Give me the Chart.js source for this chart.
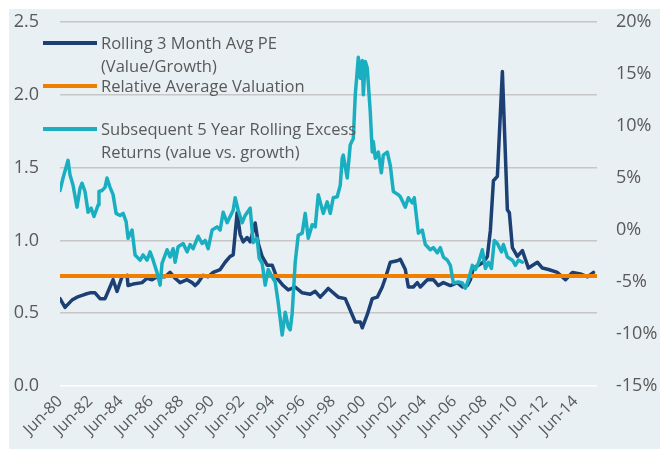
<!DOCTYPE html>
<html>
<head>
  <meta charset="UTF-8">
  <title>Value vs Growth PE</title>
  <script src="https://cdn.jsdelivr.net/npm/chart.js@4.4.1/dist/chart.umd.min.js"></script>
  <style>
    body {
      margin: 0;
      background: #fff;
      font-family: "Open Sans", sans-serif;
    }
    #wrap {
      position: absolute;
      left: 9px;
      top: 9px;
      width: 651px;
      height: 440px;
      background: #e8f0f4;
    }
    .key {
      position: absolute;
      left: 43px;
      width: 54px;
      height: 4px;
    }
    .lbl {
      position: absolute;
      left: 101px;
      height: 22px;
      line-height: 22px;
      font-size: 16.5px;
      color: #595959;
      white-space: nowrap;
    }
  </style>
</head>
<body>
  <div id="wrap"><canvas id="chart" width="651" height="440"></canvas></div>

  <div class="key" style="top:41px; background:#1c3f74;"></div>
  <div class="lbl" style="top:32px;">Rolling 3 Month Avg PE</div>
  <div class="lbl" style="top:55px;">(Value/Growth)</div>
  <div class="key" style="top:84px; background:#f07f00;"></div>
  <div class="lbl" style="top:75px;">Relative Average Valuation</div>
  <div class="key" style="top:127px; background:#1aafc0;"></div>
  <div class="lbl" style="top:118px;">Subsequent 5 Year Rolling Excess</div>
  <div class="lbl" style="top:141px;">Returns (value vs. growth)</div>

<script>
// x values are decimal years (Jun = year + 0.42)
const tickYears = [1980.42, 1982.42, 1984.42, 1986.42, 1988.42, 1990.42, 1992.42, 1994.42, 1996.42,
  1998.42, 2000.42, 2002.42, 2004.42, 2006.42, 2008.42, 2010.42, 2012.42, 2014.42];
const tickLabels = ['Jun-80', 'Jun-82', 'Jun-84', 'Jun-86', 'Jun-88', 'Jun-90', 'Jun-92', 'Jun-94', 'Jun-96',
  'Jun-98', 'Jun-00', 'Jun-02', 'Jun-04', 'Jun-06', 'Jun-08', 'Jun-10', 'Jun-12', 'Jun-14'];

const peDates = [
  1980.42, 1980.75, 1981.21, 1981.54, 1982.07, 1982.40, 1982.73, 1983.06, 1983.39, 1983.92,
  1984.18, 1984.51, 1984.84, 1984.91, 1985.24, 1985.83, 1986.16, 1986.49, 1986.82, 1987.35,
  1987.68, 1988.01, 1988.34, 1988.80, 1989.13, 1989.33, 1989.53, 1989.86, 1990.19, 1990.52,
  1990.98, 1991.31, 1991.64, 1991.84, 1992.10, 1992.30, 1992.50, 1992.76, 1992.96, 1993.29,
  1993.49, 1993.75, 1994.08, 1994.41, 1994.74, 1995.14, 1995.47, 1995.93, 1996.39, 1996.92,
  1997.25, 1997.58, 1998.11, 1998.77, 1999.23, 1999.56, 1999.89, 2000.22, 2000.35, 2000.68,
  2001.01, 2001.34, 2001.67, 2001.87, 2002.20, 2002.66, 2002.86, 2003.19, 2003.39, 2003.72,
  2003.98, 2004.18, 2004.64, 2005.04, 2005.37, 2005.70, 2006.16, 2006.62, 2006.95, 2007.28,
  2007.48, 2007.68, 2008.01, 2008.34, 2008.60, 2008.80, 2009.00, 2009.26, 2009.59, 2009.92,
  2010.05, 2010.25, 2010.58, 2010.91, 2011.31, 2011.90, 2012.23, 2012.63, 2013.22, 2013.75,
  2014.21, 2014.74, 2015.20, 2015.60];
const peValues = [
  0.60, 0.54, 0.59, 0.61, 0.63, 0.64, 0.64, 0.60, 0.60, 0.73,
  0.65, 0.75, 0.76, 0.69, 0.70, 0.71, 0.74, 0.73, 0.75, 0.75,
  0.78, 0.74, 0.71, 0.73, 0.71, 0.69, 0.71, 0.76, 0.75, 0.78,
  0.80, 0.85, 0.89, 0.90, 1.19, 1.04, 0.99, 1.02, 0.99, 1.12,
  0.98, 0.89, 0.83, 0.83, 0.74, 0.69, 0.66, 0.68, 0.64, 0.63,
  0.65, 0.61, 0.67, 0.61, 0.60, 0.52, 0.44, 0.44, 0.40, 0.49,
  0.60, 0.61, 0.68, 0.74, 0.85, 0.86, 0.87, 0.80, 0.68, 0.68,
  0.71, 0.68, 0.73, 0.73, 0.69, 0.71, 0.69, 0.71, 0.68, 0.69,
  0.73, 0.81, 0.83, 0.85, 0.89, 1.07, 1.41, 1.44, 2.16, 1.21,
  1.19, 0.95, 0.89, 0.93, 0.81, 0.85, 0.81, 0.80, 0.78, 0.73,
  0.78, 0.77, 0.75, 0.78];

const avgValuation = 0.755;
const avgSpan = [1980.42, 2015.83];

const excessDates = [
  1980.42, 1980.62, 1980.95, 1981.08, 1981.28, 1981.54, 1981.74, 1981.87, 1982.07, 1982.27,
  1982.47, 1982.66, 1982.93, 1982.99, 1983.19, 1983.39, 1983.52, 1983.72, 1983.92, 1984.12,
  1984.38, 1984.58, 1984.78, 1984.91, 1985.17, 1985.37, 1985.70, 1985.90, 1986.16, 1986.36,
  1986.56, 1986.82, 1987.02, 1987.15, 1987.48, 1987.68, 1987.88, 1988.01, 1988.21, 1988.54,
  1988.80, 1989.00, 1989.20, 1989.53, 1989.79, 1989.99, 1990.19, 1990.45, 1990.78, 1990.98,
  1991.18, 1991.44, 1991.64, 1991.84, 1991.97, 1992.17, 1992.43, 1992.63, 1992.96, 1993.16,
  1993.42, 1993.55, 1993.75, 1993.95, 1994.15, 1994.41, 1994.61, 1994.81, 1995.07, 1995.27,
  1995.47, 1995.60, 1995.73, 1995.93, 1996.06, 1996.13, 1996.39, 1996.59, 1996.79, 1997.05,
  1997.25, 1997.45, 1997.78, 1998.04, 1998.24, 1998.44, 1998.70, 1998.90, 1999.03, 1999.10,
  1999.36, 1999.56, 1999.76, 1999.89, 2000.09, 2000.22, 2000.35, 2000.42, 2000.55, 2000.68,
  2000.88, 2001.01, 2001.08, 2001.21, 2001.41, 2001.61, 2001.74, 2002.00, 2002.20, 2002.40,
  2002.73, 2002.86, 2003.19, 2003.39, 2003.65, 2003.78, 2004.05, 2004.31, 2004.51, 2004.84,
  2005.04, 2005.30, 2005.50, 2005.70, 2005.96, 2006.16, 2006.36, 2006.69, 2006.95, 2007.15,
  2007.35, 2007.61, 2007.81, 2008.01, 2008.27, 2008.47, 2008.67, 2008.87, 2009.06, 2009.26,
  2009.53, 2009.66, 2009.92, 2010.25, 2010.45, 2010.65, 2010.91];
const excessValues = [
  3.8, 5.0, 6.7, 5.3, 4.3, 2.2, 4.0, 4.5, 3.7, 1.7,
  2.1, 1.3, 2.4, 3.7, 3.8, 4.1, 5.0, 4.1, 3.4, 1.6,
  1.4, 1.6, 0.8, -0.8, 0.0, -2.4, -2.9, -2.4, -2.9, -2.1,
  -2.9, -4.1, -5.3, -3.2, -1.9, -2.6, -1.8, -3.1, -1.6, -1.3,
  -2.1, -1.4, -1.8, -0.6, -1.3, -1.0, -1.8, 0.0, 0.3, 0.0,
  1.7, 0.7, 1.3, 1.9, 3.1, 1.9, 0.7, 1.4, 2.1, -1.2,
  -0.8, -2.7, -3.2, -5.3, -3.8, -4.5, -5.0, -7.0, -10.1, -7.9,
  -9.3, -9.6, -8.0, -3.1, -1.4, -0.5, -0.3, 1.6, -0.8, 0.5,
  0.3, 3.4, 1.6, 2.7, 1.6, 3.1, 3.2, 4.3, 6.9, 7.2,
  5.0, 8.2, 8.8, 13.0, 16.6, 14.6, 16.3, 13.0, 16.2, 15.6,
  11.3, 7.5, 8.5, 6.9, 7.5, 5.5, 7.2, 7.5, 6.2, 3.7,
  3.4, 3.2, 2.2, 3.1, 2.6, 3.1, -0.3, 0.0, -1.4, -1.9,
  -1.7, -2.2, -1.7, -2.6, -2.9, -3.4, -5.1, -5.0, -5.1, -5.6,
  -4.8, -3.4, -3.8, -3.2, -1.9, -3.7, -3.1, -3.7, -1.0, -1.3,
  -2.1, -1.4, -2.6, -2.9, -3.4, -2.9, -3.1];

const pairs = (xs, ys) => xs.map((x, i) => ({ x: x, y: ys[i] }));

const tickFont = { family: "Open Sans", size: 18 };

// fixed axis sizes; drop the label overhang padding so the plot keeps its place
const fixWidth = w => axis => { axis.width = w; axis.paddingTop = 0; axis.paddingBottom = 0; };

new Chart(document.getElementById('chart'), {
  type: 'line',
  data: {
    datasets: [
      {
        label: 'Rolling 3 Month Avg PE (Value/Growth)',
        data: pairs(peDates, peValues),
        borderColor: '#1c3f74',
        borderWidth: 3.5,
        yAxisID: 'y',
        order: 3
      },
      {
        label: 'Relative Average Valuation',
        data: avgSpan.map(x => ({ x: x, y: avgValuation })),
        borderColor: '#f07f00',
        borderWidth: 4,
        yAxisID: 'y',
        order: 2
      },
      {
        label: 'Subsequent 5 Year Rolling Excess Returns (value vs. growth)',
        data: pairs(excessDates, excessValues),
        borderColor: '#1aafc0',
        borderWidth: 3.5,
        yAxisID: 'y2',
        order: 1
      }
    ]
  },
  options: {
    responsive: false,
    animation: false,
    events: [],
    elements: { point: { radius: 0 }, line: { tension: 0, borderCapStyle: 'round', borderJoinStyle: 'round' } },
    layout: { padding: { top: 13, left: 0, right: 0, bottom: 0 } },
    plugins: { legend: { display: false }, tooltip: { enabled: false } },
    scales: {
      x: {
        type: 'linear',
        min: 1980.42,
        max: 2015.83,
        grid: { display: false, drawTicks: false },
        border: { display: false },
        afterBuildTicks: axis => { axis.ticks = tickYears.map(v => ({ value: v })); },
        afterFit: axis => { axis.height = 63; },
        ticks: {
          autoSkip: false,
          minRotation: 45,
          maxRotation: 45,
          padding: 6,
          color: '#595959',
          font: { family: "Open Sans", size: 16 },
          callback: v => tickLabels[tickYears.indexOf(v)]
        }
      },
      y: {
        position: 'left',
        min: 0,
        max: 2.5,
        afterFit: fixWidth(51),
        grid: {
          drawTicks: false,
          lineWidth: 1.5,
          color: ctx => ctx.tick && ctx.tick.value === 0 ? '#ffffff' : '#c6c6c6'
        },
        border: { display: false },
        ticks: {
          stepSize: 0.5,
          padding: 21,
          color: '#595959',
          font: tickFont,
          callback: v => v.toFixed(1)
        }
      },
      y2: {
        position: 'right',
        min: -15,
        max: 20,
        afterFit: fixWidth(63),
        grid: { display: false, drawTicks: false },
        border: { display: false },
        ticks: {
          stepSize: 5,
          padding: 19,
          color: '#595959',
          font: tickFont,
          callback: v => v + '%'
        }
      }
    }
  }
});
</script>
</body>
</html>
